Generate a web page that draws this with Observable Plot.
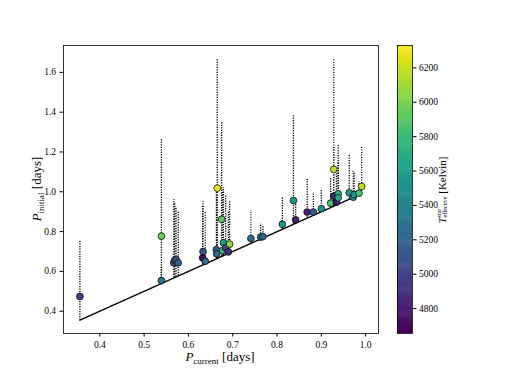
<!DOCTYPE html>
<html><head><meta charset="utf-8">
<script src="https://cdn.jsdelivr.net/npm/d3@7"></script>
<script src="https://cdn.jsdelivr.net/npm/@observablehq/plot@0.6"></script>
<style>
body{margin:0;background:#fff;}
#wrap{position:relative;width:507px;height:374px;overflow:hidden;}
#wrap svg{position:absolute;left:0;top:0;}
#wrap svg, #wrap svg text{font-family:"Liberation Serif",serif !important;}
.lab{position:absolute;white-space:nowrap;font-family:"Liberation Serif",serif;color:#000;font-size:13px;line-height:1;}
.rot{transform:translate(-50%,-50%) rotate(-90deg);}
.hor{transform:translate(-50%,-50%);}
.sub{font-size:9px;position:relative;top:3px;}
.ss{display:inline-flex;flex-direction:column;font-size:6px;line-height:6px;vertical-align:middle;position:relative;top:-1px;}
.cb{font-size:11px;}
</style></head><body><div id="wrap"></div>
<script>
// Current orbital period [days]
const pCurrent = [0.355,0.539,0.539,0.567,0.569,0.572,0.577,0.633,0.632,0.638,0.665,0.663,0.664,0.675,0.679,0.677,0.684,0.690,0.693,0.741,0.763,0.768,0.812,0.837,0.842,0.868,0.882,0.900,0.921,0.928,0.928,0.934,0.938,0.938,0.963,0.972,0.974,0.985,0.991];
// Initial orbital period [days]
const pInitial = [0.474,0.777,0.554,0.643,0.655,0.660,0.643,0.700,0.668,0.651,1.018,0.709,0.688,0.862,0.744,0.705,0.719,0.698,0.737,0.765,0.772,0.775,0.837,0.956,0.859,0.898,0.898,0.915,0.943,1.112,0.978,0.948,0.990,0.970,0.995,0.973,0.986,0.993,1.027];
// Upper end of the allowed initial period range [days]
const pMax = [0.755,1.263,0.620,0.960,0.940,0.920,0.898,0.951,0.930,0.900,1.668,1.010,0.980,1.350,1.020,1.000,0.980,0.900,0.956,0.906,0.840,0.830,0.973,1.382,0.950,1.065,0.995,1.012,1.072,1.668,1.224,1.100,1.238,1.150,1.190,1.107,1.098,1.050,1.224];
// Stellar effective temperature [K]
const teff = [4950,5950,5300,5100,5150,5050,5200,5150,4700,5250,6300,5150,5200,5900,5600,5750,5000,4850,6050,5250,5250,5200,5500,5550,4800,4800,5150,5500,5850,6150,4850,4750,5700,5650,5550,5500,5500,5850,6150];
// End points of the P_initial = P_current line
const lineP = [0.355, 0.98];
const xTicks = [0.4,0.5,0.6,0.7,0.8,0.9,1.0];
const yTicks = [0.4,0.6,0.8,1.0,1.2,1.4,1.6];
const cbTicks = [4800,5000,5200,5400,5600,5800,6000,6200];
const tRange = [4655, 6330];

const W=507,H=374;
const mL=63,mR=W-378,mT=45,mB=H-333;
const font='"Liberation Serif", serif';
const stars = pCurrent.map((p,i)=>({pc:p, pi:pInitial[i], pm:pMax[i], t:teff[i]}));
const color = {type:"linear", scheme:"viridis", domain:tRange};

const main = Plot.plot({
  width:W,height:H,marginLeft:mL,marginRight:mR,marginTop:mT,marginBottom:mB,
  style:{background:"transparent",fontFamily:font,fontSize:"9.5px",color:"#000"},
  x:{domain:[0.318,1.029],ticks:xTicks,tickFormat:d3.format(".1f"),label:null,tickSize:3.5,tickPadding:4},
  y:{domain:[0.288,1.735],ticks:yTicks,tickFormat:d3.format(".1f"),label:null,tickSize:3.5,tickPadding:4},
  color,
  marks:[
    Plot.line(lineP.map(v=>({x:v,y:v})),{x:"x",y:"y",stroke:"black",strokeWidth:1.4}),
    Plot.ruleX(stars,{x:"pc",y1:"pc",y2:"pm",stroke:"black",strokeWidth:1.3,strokeDasharray:"1.2,1.3"}),
    Plot.dot(stars,{x:"pc",y:"pi",fill:"t",r:3.4,stroke:"black",strokeWidth:0.7}),
    Plot.frame({stroke:"#000",strokeWidth:0.8})
  ]
});

const step=(tRange[1]-tRange[0])/300;
const cells=d3.range(300).map(i=>tRange[0]+i*step);
const cbar = Plot.plot({
  width:W,height:H,marginLeft:397,marginRight:W-412,marginTop:mT,marginBottom:mB,
  style:{background:"transparent",fontFamily:font,fontSize:"9.5px",color:"#000"},
  x:{domain:[0,1],axis:null},
  y:{domain:tRange,axis:"right",ticks:cbTicks,tickFormat:d=>String(d),label:null,tickSize:3.5,tickPadding:3},
  color,
  marks:[
    Plot.rect(cells,{x1:0,x2:1,y1:d=>d,y2:d=>Math.min(d+step*1.6,tRange[1]),fill:d=>d}),
    Plot.frame({stroke:"#000",strokeWidth:0.8})
  ]
});

const wrap=document.getElementById("wrap");
wrap.appendChild(main);
wrap.appendChild(cbar);
function addLabel(html,x,y,cls){const d=document.createElement("div");d.className="lab "+cls;d.style.left=x+"px";d.style.top=y+"px";d.innerHTML=html;wrap.appendChild(d);}
addLabel('<i>P</i><span class="sub">current</span> [days]',220,356,"hor");
addLabel('<i>P</i><span class="sub">initial</span> [days]',36,189,"rot");
addLabel('<i>T</i><span class="ss"><span>star</span><span>effective</span></span> [Kelvin]',443,190,"rot cb");
</script></body></html>
